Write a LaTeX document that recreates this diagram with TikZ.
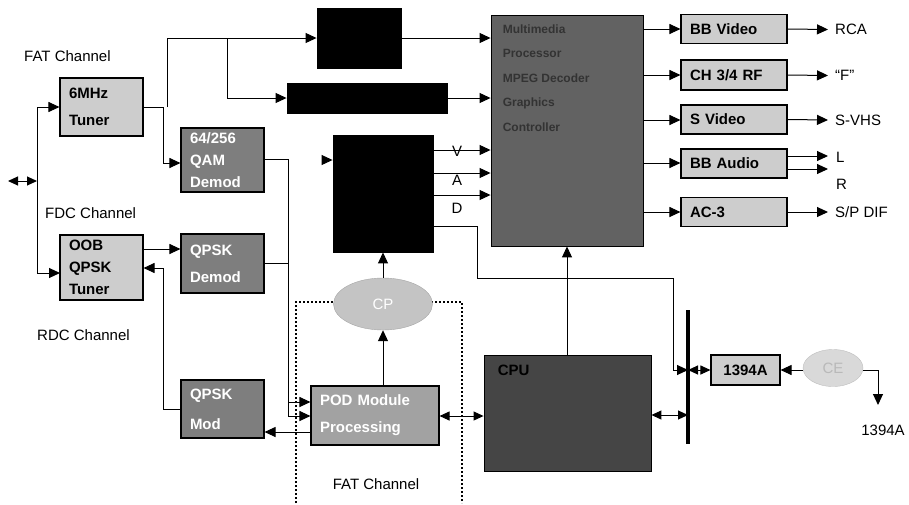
\documentclass[tikz,border=0pt]{standalone}
\usepackage{fontspec}
\setmainfont{Liberation Sans}
\usetikzlibrary{arrows.meta, shapes.geometric}
\definecolor{boxLight}{HTML}{CDCDCD}
\definecolor{boxDark}{HTML}{7E7E7E}
\definecolor{boxMid}{HTML}{A2A2A2}
\definecolor{mmpGrey}{HTML}{626262}
\definecolor{cpuGrey}{HTML}{454545}
\definecolor{ovalGrey}{HTML}{C4C4C4}

\begin{document}
\begin{tikzpicture}[x=1pt, y=-1pt,
  every node/.style={font=\fontsize{15}{18}\selectfont},
  unit/.style={draw, line width=1.1pt, inner xsep=9pt, inner ysep=0pt, align=left,
               font=\bfseries\fontsize{15}{22}\selectfont},
  light/.style={unit, fill=boxLight},
  dark/.style={unit, fill=boxDark, text=white},
  blackbox/.style={draw, line width=0.9pt, fill=black, inner sep=0pt},
  oval/.style={ellipse, draw=gray!70, fill=ovalGrey, inner sep=0pt},
  wire/.style={line width=1pt},
  arr/.style={wire, -{Triangle[length=11pt, width=10pt]}},
  darr/.style={wire, {Triangle[length=10pt, width=9pt]}-{Triangle[length=10pt, width=9pt]}},
  lbl/.style={inner sep=0pt, anchor=west}]
  \useasboundingbox (0,0) rectangle (909,504);
  % channel labels
  \node[lbl] (fatlbl) at (24,56) {FAT Channel};
  \node[lbl] (fdclbl) at (45,213) {FDC Channel};
  \node[lbl] (rdclbl) at (37,335) {RDC Channel};
  % pod area
  \draw[line width=1.7pt, dash pattern=on 1.7pt off 2.3pt] (296,503) -- (296,302) -- (462,302) -- (462,503);
  \node (fatpod) at (376,484) {FAT Channel};
  % tuners and demodulators
  \node[light, text width=65pt, minimum height=58pt] (tuner) at (101.5,107) {6MHz\\[5pt]Tuner};
  \node[dark, text width=65pt, minimum height=64pt] (qam) at (222.5,160) {64/256\\QAM\\Demod};
  \node[light, text width=65pt, minimum height=65pt] (oob) at (101.5,267.5) {OOB\\QPSK\\Tuner};
  \node[dark, text width=65pt, minimum height=59pt] (qpskd) at (222.5,263.5) {QPSK\\[5pt]Demod};
  \node[dark, text width=65pt, minimum height=58pt] (qpskm) at (222.5,409) {QPSK\\[8pt]Mod};
  \node[unit, fill=boxMid, text=white, text width=110pt, minimum height=59pt] (pod) at (375,415.5) {POD Module\\[5pt]Processing};
  \node[oval, minimum width=99pt, minimum height=52pt, text=white] (cp) at (383,304) {CP};
  % decoders
  \node[blackbox, minimum width=84pt, minimum height=60pt] (blk1) at (359,38) {};
  \node[blackbox, minimum width=160pt, minimum height=30pt] (blk2) at (367,98) {};
  \node[blackbox, minimum width=100pt, minimum height=117pt] (blk3) at (383,193.5) {};
  \node[draw, line width=0.9pt, fill=mmpGrey, minimum width=152pt, minimum height=231pt, inner sep=0pt] (mmp) at (567,130.5) {};
  \node[anchor=north west, align=left, inner sep=0pt, text=black!80,
        font=\bfseries\fontsize{12}{24.5}\selectfont] (mmptxt)
        at ([xshift=12pt, yshift=-10pt]mmp.north west) {Multimedia\\Processor\\MPEG Decoder\\Graphics\\Controller};
  \node[draw, line width=0.9pt, fill=cpuGrey, minimum width=167pt, minimum height=116pt, inner sep=0pt] (cpu) at (567.5,413) {};
  \node[anchor=north west, inner sep=0pt, text=black, font=\bfseries\fontsize{15}{18}\selectfont] (cputxt)
        at ([xshift=14pt, yshift=-10pt]cpu.north west) {CPU};
  % outputs
  \node[light, text width=88pt, minimum height=29pt] (bbv) at (734,29) {BB Video};
  \node[light, text width=88pt, minimum height=30pt] (rf) at (734,75) {CH 3/4 RF};
  \node[light, text width=88pt, minimum height=29pt] (sv) at (734,119.5) {S Video};
  \node[light, text width=88pt, minimum height=29pt] (bba) at (734,163.5) {BB Audio};
  \node[light, text width=88pt, minimum height=29pt] (ac3) at (734,212) {AC-3};
  \node[lbl] (rca) at (835,29.5) {RCA};
  \node[lbl] (fcon) at (835,75.5) {``F''};
  \node[lbl] (svhs) at (835,120) {S-VHS};
  \node[lbl] (lout) at (836,157) {L};
  \node[lbl] (rout) at (836,184) {R};
  \node[lbl] (spdif) at (835,212) {S/P DIF};
  % 1394 side
  \coordinate (bustop) at (688,310);
  \coordinate (busbot) at (688,444);
  \draw[line width=3.5pt] (bustop) -- (busbot);
  \node[unit, fill=boxLight, align=center, text width=51pt, minimum height=30pt] (fw) at (745.5,370) {1394A};
  \node[oval, draw=gray!50, fill=gray!30, minimum width=60pt, minimum height=37pt, text=gray!55] (ce) at (833,368) {CE};
  \node (fwout) at (883,430) {1394A};
  % input side
  \coordinate (ant) at (8,181);
  \coordinate (split) at (37,181);
  \draw[darr] (ant) -- (split);
  \draw[wire] (37,107) -- (37,273);
  \draw[arr] (split |- tuner.west) -- (tuner.west);
  \draw[arr] (37,273) -- (60,273);
  \draw[arr] (tuner.east) -- (163,107) -- (163,163) -- (qam.west |- 0,163);
  \draw[arr] (167,107) -- (167,38) -- (blk1.west);
  \draw[arr] (227,38) -- (227,98) -- (blk2.west);
  \draw[arr] (oob.east |- 0,249) -- (qpskd.west |- 0,249);
  \draw[arr] (qpskm.west) -- (163,409) -- (163,268) -- (oob.east |- 0,268);
  \draw[arr] (qam.east |- 0,159) -- (288,159) -- (288,402) -- (pod.west |- 0,402);
  \draw[arr] (qpskd.east) -- (288,263.5) -- (288,416) -- (pod.west |- 0,416);
  \draw[arr] (pod.west |- 0,432) -- (qpskm.east |- 0,432);
  \draw[arr] (pod.north -| cp.south) -- (cp.south);
  \draw[arr] (cp.north) -- (blk3.south);
  % decoders to processor
  \draw[arr] (blk1.east) -- (mmp.west |- blk1.east);
  \draw[arr] (blk2.east) -- (mmp.west |- blk2.east);
  \draw[arr] (322,160) -- (blk3.west |- 0,160);
  \draw[arr] (blk3.east |- 0,150) -- (mmp.west |- 0,150);
  \draw[arr] (blk3.east |- 0,173) -- (mmp.west |- 0,173);
  \draw[arr] (blk3.east |- 0,195) -- (mmp.west |- 0,195);
  \node (vlbl) at (457,151) {V};
  \node (albl) at (457,180) {A};
  \node (dlbl) at (457,208) {D};
  \draw[arr] (blk3.east |- 0,226) -- (477,226) -- (477,278) -- (673,278) -- (673,370) -- (bustop |- 0,370);
  \draw[arr] (cpu.north -| mmp.south) -- (mmp.south);
  \draw[darr] (pod.east |- 0,416) -- (cpu.west |- 0,416);
  \draw[darr] (cpu.east |- 0,415) -- (bustop |- 0,415);
  \draw[darr] (bustop |- fw.west) -- (fw.west);
  \draw[arr] (ce.west |- fw.east) -- (fw.east);
  \draw[arr] (ce.east |- 0,370) -- (878,370) -- (878,405);
  % processor to outputs
  \foreach \n/\y in {bbv/29, rf/75, sv/120, bba/163, ac3/212}
    \draw[arr] (mmp.east |- 0,\y) -- (\n.west |- 0,\y);
  \draw[arr] (bbv.east) -- (rca.west -| 828,0);
  \draw[arr] (rf.east) -- (fcon.west -| 828,0);
  \draw[arr] (sv.east) -- (svhs.west -| 828,0);
  \draw[arr] (bba.east |- 0,156) -- (828,156);
  \draw[arr] (bba.east |- 0,169) -- (828,169);
  \draw[arr] (ac3.east) -- (spdif.west -| 828,0);
\end{tikzpicture}
\end{document}
